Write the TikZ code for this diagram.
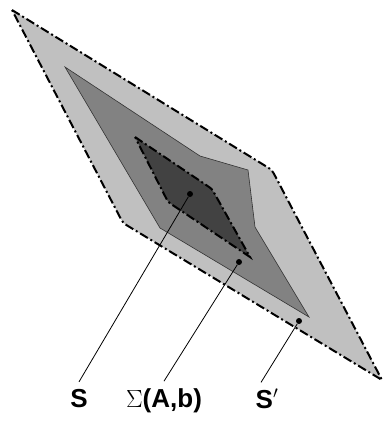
\documentclass[tikz,border=0pt]{standalone}
\usepackage{fontspec}
\setsansfont{Liberation Sans}

\definecolor{lightreg}{RGB}{192,192,192}
\definecolor{midreg}{RGB}{130,130,130}
\definecolor{darkreg}{RGB}{66,66,66}

\begin{document}
\begin{tikzpicture}[
  x=1pt, y=-1pt,
  dashdot/.style={draw=black, line width=2pt, dash pattern=on 9pt off 3pt on 2pt off 3pt},
  solidline/.style={draw=black!80, line width=0.6pt},
  dot/.style={circle, fill=black, inner sep=0pt, minimum size=6pt},
  lbl/.style={font=\fontsize{26}{30}\selectfont\sffamily\bfseries, inner sep=0pt, outer sep=7pt, anchor=base},
  leader/.style={line width=0.8pt}
]
  \useasboundingbox (0,0) rectangle (384,421);

  % outer region S'
  \path[fill=lightreg, dashdot] (12,10) -- (265.2,165.8) .. controls (272,170) .. (275.7,177.1)
    -- (382,380) -- (129.8,227.1) .. controls (123,223) .. (119.3,215.9) -- cycle;
  % middle region
  \path[fill=midreg, solidline] (65,67) -- (200,156) -- (248,170) -- (255,227)
    -- (309,317) -- (160,228) -- cycle;
  % inner region S
  \path[fill=darkreg, dashdot] (135,137) -- (207.0,185.6) .. controls (212,189) .. (214.9,194.2)
    -- (250,257) -- (173.0,205.3) .. controls (168,202) .. (165.3,196.6) -- cycle;

  \node[dot] (sdot) at (190,194) {};
  \node[dot] (sigdot) at (239,262) {};
  \node[dot] (spdot) at (299,321) {};

  \node[lbl] (s) at (79,407) {S};
  \node[lbl] (sig) at (164,407) {$\Sigma$(A,b)};
  \node[lbl] (sp) at (267,408) {S$'$};

  \draw[leader] (sdot) -- (s.north);
  \draw[leader] (sigdot) -- (sig.north);
  \draw[leader] (spdot) -- (sp.110);
\end{tikzpicture}
\end{document}
